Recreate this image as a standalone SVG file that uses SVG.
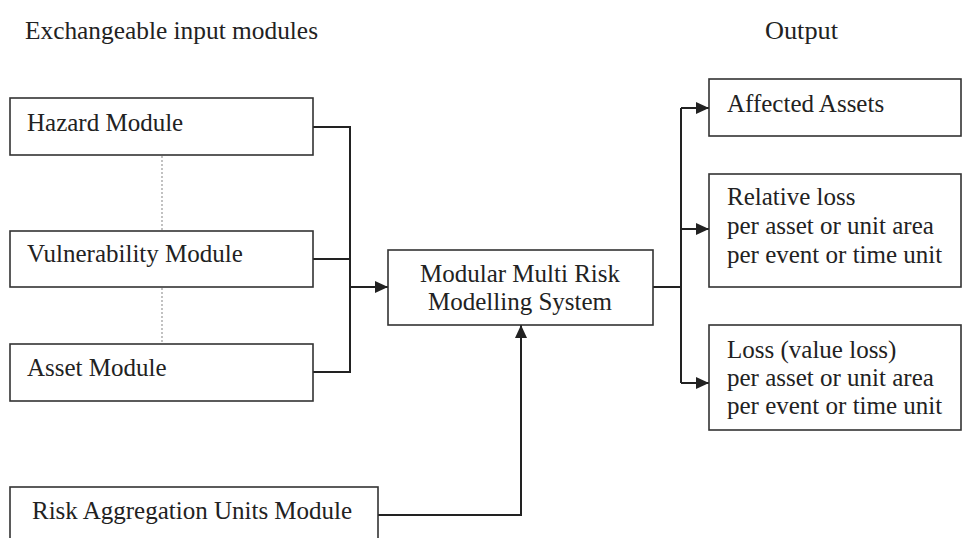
<svg xmlns="http://www.w3.org/2000/svg" width="962" height="538" viewBox="0 0 962 538">
  <style>
    .box { fill: #fff; stroke: #333; stroke-width: 1.6; }
    .lbl { font-family: "Liberation Serif", "Times New Roman", serif; font-size: 25px; fill: #222; }
    .hdr { font-family: "Liberation Serif", "Times New Roman", serif; font-size: 26px; fill: #222; }
    .wire { fill: none; stroke: #222; stroke-width: 2; }
    .dots { fill: none; stroke: #999; stroke-width: 1.2; stroke-dasharray: 2 2; }
  </style>
  <defs>
    <marker id="arrow" viewBox="0 0 13 12" refX="13" refY="6" markerWidth="13" markerHeight="12" markerUnits="userSpaceOnUse" orient="auto">
      <path d="M0,0 L13,6 L0,12 Z" fill="#222"/>
    </marker>
  </defs>
  <rect width="962" height="538" fill="#fff"/>

  <text class="hdr" x="25" y="39" textLength="293" lengthAdjust="spacingAndGlyphs">Exchangeable input modules</text>
  <text class="hdr" x="765" y="39" textLength="73" lengthAdjust="spacingAndGlyphs">Output</text>

  <!-- dotted links between the exchangeable modules -->
  <g id="module-links">
    <line class="dots" x1="162" y1="156" x2="162" y2="230"/>
    <line class="dots" x1="162" y1="288" x2="162" y2="343"/>
  </g>

  <g id="connectors">
    <path class="wire" d="M313,127 H350 V372 H313"/>
    <path class="wire" d="M313,259 H350"/>
    <path class="wire" d="M350,287 H388" marker-end="url(#arrow)"/>
    <path class="wire" d="M378,515 H521 V325" marker-end="url(#arrow)"/>
    <path class="wire" d="M653,287 H681"/>
    <path class="wire" d="M681,108 V383"/>
    <path class="wire" d="M681,108 H709" marker-end="url(#arrow)"/>
    <path class="wire" d="M681,229 H709" marker-end="url(#arrow)"/>
    <path class="wire" d="M681,383 H709" marker-end="url(#arrow)"/>
  </g>

  <g id="hazard">
    <rect class="box" x="10" y="98" width="303" height="57"/>
    <text class="lbl" x="27" y="131">Hazard Module</text>
  </g>
  <g id="vulnerability">
    <rect class="box" x="10" y="231" width="303" height="56"/>
    <text class="lbl" x="27" y="262">Vulnerability Module</text>
  </g>
  <g id="asset">
    <rect class="box" x="10" y="344" width="303" height="57"/>
    <text class="lbl" x="27" y="376">Asset Module</text>
  </g>
  <g id="risk-aggregation">
    <rect class="box" x="10" y="487" width="368" height="60"/>
    <text class="lbl" x="32" y="519">Risk Aggregation Units Module</text>
  </g>
  <g id="system">
    <rect class="box" x="388" y="250" width="265" height="75"/>
    <text class="lbl" x="520" y="282" text-anchor="middle">Modular Multi Risk</text>
    <text class="lbl" x="520" y="310" text-anchor="middle">Modelling System</text>
  </g>
  <g id="affected-assets">
    <rect class="box" x="709" y="79" width="252" height="57"/>
    <text class="lbl" x="727" y="112">Affected Assets</text>
  </g>
  <g id="relative-loss">
    <rect class="box" x="709" y="174" width="252" height="113"/>
    <text class="lbl" x="727" y="205">Relative loss</text>
    <text class="lbl" x="727" y="234">per asset or unit area</text>
    <text class="lbl" x="727" y="263">per event or time unit</text>
  </g>
  <g id="value-loss">
    <rect class="box" x="709" y="325" width="252" height="105"/>
    <text class="lbl" x="727" y="358">Loss (value loss)</text>
    <text class="lbl" x="727" y="386">per asset or unit area</text>
    <text class="lbl" x="727" y="414">per event or time unit</text>
  </g>
</svg>
